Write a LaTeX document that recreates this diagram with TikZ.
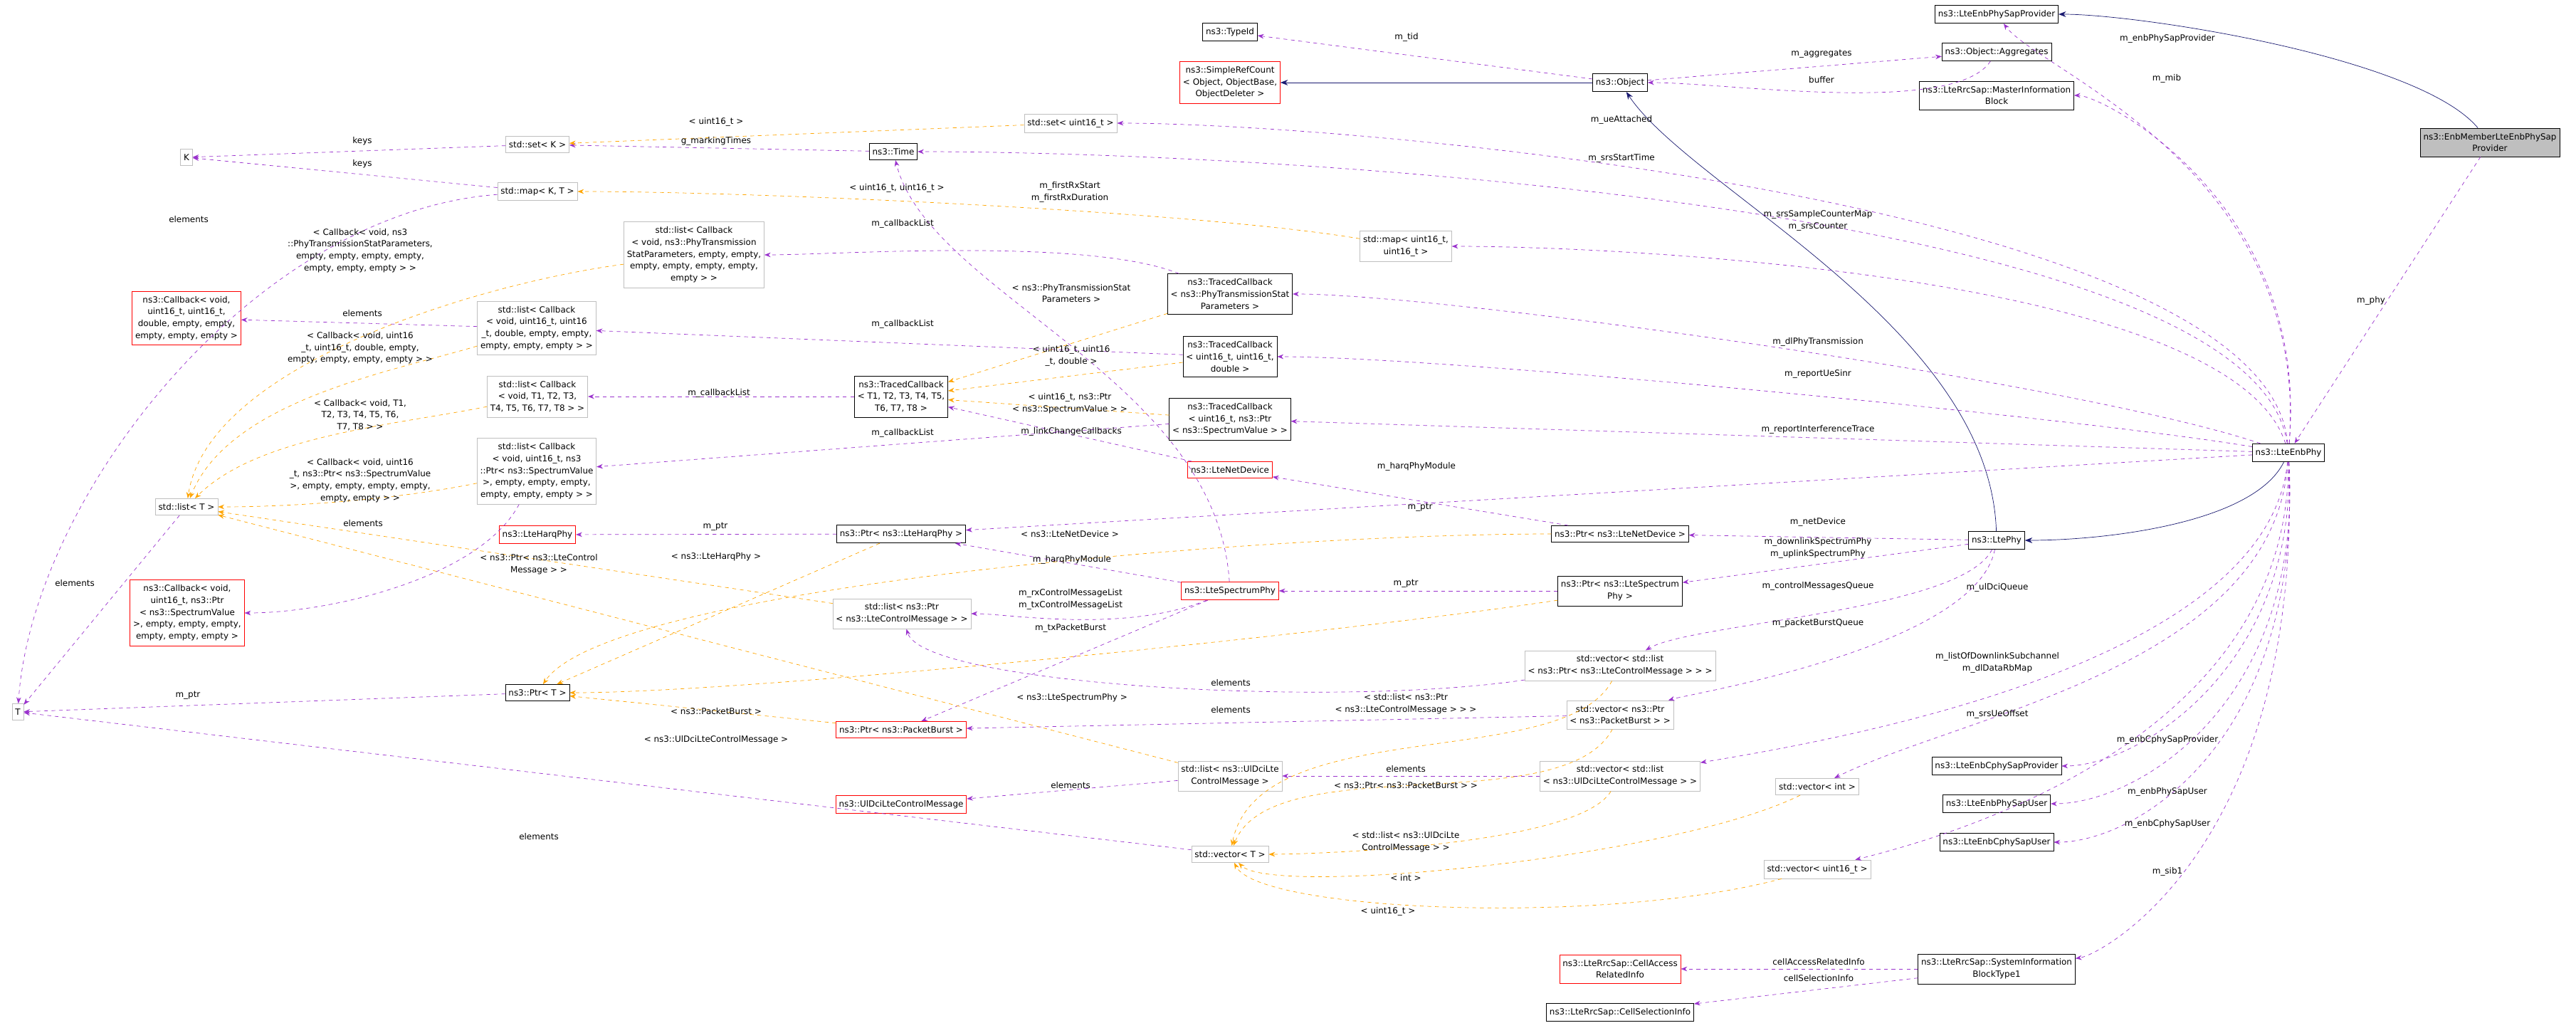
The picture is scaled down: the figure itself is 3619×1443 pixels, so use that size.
\documentclass[tikz,border=0pt]{standalone}
\usepackage{fontspec}
\setmainfont{DejaVu Sans}
\usetikzlibrary{arrows.meta}
\definecolor{use}{HTML}{9A32CD}
\definecolor{tmpl}{HTML}{FFA500}
\definecolor{inh}{HTML}{191970}
\definecolor{gbd}{HTML}{BFBFBF}
\begin{document}
\begin{tikzpicture}[x=0.02cm,y=-0.02cm,
 every node/.style={font=\fontsize{6.8}{9.5}\selectfont,align=center},
 bx/.style={draw=black,inner xsep=2.5pt,inner ysep=4pt,fill=white},
 gx/.style={draw=gbd,inner xsep=2.5pt,inner ysep=4pt,fill=white},
 rx/.style={draw=red,inner xsep=2.5pt,inner ysep=4pt,fill=white},
 mem/.style={draw=use,dashed,-{Stealth[length=5pt]}},
 tpl/.style={draw=tmpl,dashed,-{Stealth[length=5pt]}},
 inhe/.style={draw=inh,-{Stealth[length=6pt]}},
 lab/.style={inner sep=1pt}]
\useasboundingbox (0,0) rectangle (3619,1443);
% nodes
\node[bx] (typeid) at (1728,45) {ns3::TypeId};
\node[rx] (src) at (1728,116) {ns3::SimpleRefCount\\< Object, ObjectBase,\\ ObjectDeleter >};
\node[bx] (obj) at (2276,116) {ns3::Object};
\node[bx] (agg) at (2805,73) {ns3::Object::Aggregates};
\node[bx] (psp) at (2805,20) {ns3::LteEnbPhySapProvider};
\node[bx] (mib) at (2805,134) {ns3::LteRrcSap::MasterInformation\\Block};
\node[draw=black,fill=gbd,inner xsep=2.5pt,inner ysep=4pt] (enb) at (3498,200) {ns3::EnbMemberLteEnbPhySap\\Provider};
\node[gx] (setK) at (755,203) {std::set< K >};
\node[gx] (K) at (262,221) {K};
\node[gx] (setu) at (1504,173) {std::set< uint16\_t >};
\node[bx] (time) at (1255,213) {ns3::Time};
\node[gx] (mapKT) at (755,269) {std::map< K, T >};
\node[gx] (lcbP) at (975,358) {std::list< Callback\\< void, ns3::PhyTransmission\\StatParameters, empty, empty,\\ empty, empty, empty, empty,\\ empty > >};
\node[gx] (mapu) at (1975,346) {std::map< uint16\_t,\\ uint16\_t >};
\node[bx] (tcP) at (1728,413) {ns3::TracedCallback\\< ns3::PhyTransmissionStat\\Parameters >};
\node[rx] (cb1) at (262,447) {ns3::Callback< void,\\ uint16\_t, uint16\_t,\\ double, empty, empty,\\ empty, empty, empty >};
\node[gx] (lcbU) at (754,461) {std::list< Callback\\< void, uint16\_t, uint16\\\_t, double, empty, empty,\\ empty, empty, empty > >};
\node[bx] (tcU) at (1728,501) {ns3::TracedCallback\\< uint16\_t, uint16\_t,\\ double >};
\node[bx] (tcT) at (1266,557) {ns3::TracedCallback\\< T1, T2, T3, T4, T5,\\ T6, T7, T8 >};
\node[gx] (lcbT) at (755,557) {std::list< Callback\\< void, T1, T2, T3,\\ T4, T5, T6, T7, T8 > >};
\node[bx] (tcS) at (1728,589) {ns3::TracedCallback\\< uint16\_t, ns3::Ptr\\< ns3::SpectrumValue > >};
\node[gx] (listT) at (262,712) {std::list< T >};
\node[gx] (lcbS) at (754,662) {std::list< Callback\\< void, uint16\_t, ns3\\::Ptr< ns3::SpectrumValue\\ >, empty, empty, empty,\\ empty, empty, empty > >};
\node[rx] (netdev) at (1728,660) {ns3::LteNetDevice};
\node[bx] (enbphy) at (3215,636) {ns3::LteEnbPhy};
\node[rx] (harq) at (755,751) {ns3::LteHarqPhy};
\node[bx] (pharq) at (1266,750) {ns3::Ptr< ns3::LteHarqPhy >};
\node[bx] (pnet) at (2276,750) {ns3::Ptr< ns3::LteNetDevice >};
\node[bx] (ltephy) at (2805,759) {ns3::LtePhy};
\node[rx] (cb2) at (263,861) {ns3::Callback< void,\\ uint16\_t, ns3::Ptr\\< ns3::SpectrumValue\\ >, empty, empty, empty,\\ empty, empty, empty >};
\node[gx] (lcm) at (1267,862) {std::list< ns3::Ptr\\< ns3::LteControlMessage > >};
\node[rx] (sphy) at (1728,830) {ns3::LteSpectrumPhy};
\node[bx] (psphy) at (2276,830) {ns3::Ptr< ns3::LteSpectrum\\Phy >};
\node[bx] (ptrT) at (755,973) {ns3::Ptr< T >};
\node[gx] (T) at (25,1000) {T};
\node[gx] (vlcm) at (2276,935) {std::vector< std::list\\< ns3::Ptr< ns3::LteControlMessage > > >};
\node[gx] (vpb) at (2276,1004) {std::vector< ns3::Ptr\\< ns3::PacketBurst > >};
\node[rx] (ppb) at (1266,1025) {ns3::Ptr< ns3::PacketBurst >};
\node[gx] (ldci) at (1728,1090) {std::list< ns3::UlDciLte\\ControlMessage >};
\node[gx] (vldci) at (2276,1090) {std::vector< std::list\\< ns3::UlDciLteControlMessage > >};
\node[rx] (dci) at (1266,1130) {ns3::UlDciLteControlMessage};
\node[gx] (vint) at (2553,1105) {std::vector< int >};
\node[bx] (cpsp) at (2805,1076) {ns3::LteEnbCphySapProvider};
\node[bx] (psu) at (2805,1129) {ns3::LteEnbPhySapUser};
\node[bx] (cpsu) at (2805,1183) {ns3::LteEnbCphySapUser};
\node[gx] (vT) at (1728,1200) {std::vector< T >};
\node[gx] (vu) at (2553,1221) {std::vector< uint16\_t >};
\node[rx] (cari) at (2276,1361) {ns3::LteRrcSap::CellAccess\\RelatedInfo};
\node[bx] (sib) at (2805,1361) {ns3::LteRrcSap::SystemInformation\\BlockType1};
\node[bx] (csi) at (2276,1422) {ns3::LteRrcSap::CellSelectionInfo};
% inheritance
\draw[inhe] (obj) -- (src);
\draw[inhe] (ltephy) .. controls +(-10,-300) and +(100,150) .. (obj);
\draw[inhe] (enbphy) .. controls +(-50,100) and +(150,0) .. (ltephy);
\draw[inhe] (enb) .. controls +(-100,-120) and +(200,0) .. (psp);
% members
\draw[mem] (obj) -- (typeid);
\draw[mem] (obj) -- (agg);
\draw[mem] (agg) .. controls +(-60,90) and +(150,0) .. (obj);
\draw[mem] (enbphy) .. controls +(30,-400) and +(60,80) .. (psp);
\draw[mem] (enbphy) .. controls +(30,-350) and +(150,0) .. (mib);
\draw[mem] (enbphy) .. controls +(-30,-350) and +(400,0) .. (setu);
\draw[mem] (enbphy) .. controls +(-50,-350) and +(500,0) .. (time);
\draw[mem] (enbphy) .. controls +(-80,-250) and +(300,0) .. (mapu);
\draw[mem] (enbphy) .. controls +(-300,-100) and +(300,0) .. (tcP);
\draw[mem] (enbphy) .. controls +(-300,-50) and +(300,0) .. (tcU);
\draw[mem] (enbphy) -- (tcS);
\draw[mem] (enbphy) -- (pharq);
\draw[mem] (enb) -- (enbphy);
\draw[mem] (enbphy) .. controls +(-30,300) and +(300,-50) .. (vldci);
\draw[mem] (enbphy) .. controls +(-20,300) and +(200,-100) .. (vint);
\draw[mem] (enbphy) .. controls +(0,400) and +(200,-50) .. (vu);
\draw[mem] (enbphy) .. controls +(10,300) and +(200,0) .. (cpsp);
\draw[mem] (enbphy) .. controls +(20,350) and +(200,0) .. (psu);
\draw[mem] (enbphy) .. controls +(20,400) and +(200,0) .. (cpsu);
\draw[mem] (enbphy) .. controls +(20,550) and +(150,-20) .. (sib);
\draw[mem] (ltephy) -- (pnet);
\draw[mem] (ltephy) -- (psphy);
\draw[mem] (ltephy) .. controls +(-50,100) and +(100,-60) .. (vlcm);
\draw[mem] (ltephy) .. controls +(-30,150) and +(100,-30) .. (vpb);
\draw[mem] (pnet) -- (netdev);
\draw[mem] (psphy) -- (sphy);
\draw[mem] (pharq) -- (harq);
\draw[mem] (sphy) -- (pharq);
\draw[mem] (sphy) .. controls +(-150,60) and +(150,0) .. (lcm);
\draw[mem] (sphy) -- (ppb);
\draw[mem] (sphy) .. controls +(-20,-300) and +(50,200) .. (time);
\draw[mem] (netdev) -- (tcT);
\draw[mem] (tcP) .. controls +(-200,-80) and +(200,0) .. (lcbP);
\draw[mem] (tcU) -- (lcbU);
\draw[mem] (tcT) -- (lcbT);
\draw[mem] (tcS) -- (lcbS);
\draw[mem] (lcbU) -- (cb1);
\draw[mem] (lcbS) .. controls +(-80,150) and +(200,0) .. (cb2);
\draw[mem] (setK) -- (K);
\draw[mem] (mapKT) -- (K);
\draw[mem] (mapKT) .. controls +(-400,30) and +(20,-300) .. (T);
\draw[mem] (listT) -- (T);
\draw[mem] (ptrT) -- (T);
\draw[mem] (vT) -- (T);
\draw[mem] (vlcm) .. controls +(-400,60) and +(30,100) .. (lcm);
\draw[mem] (vpb) -- (ppb);
\draw[mem] (vldci) -- (ldci);
\draw[mem] (ldci) -- (dci);
\draw[mem] (sib) -- (cari);
\draw[mem] (sib) -- (csi);
\draw[mem] (time) -- (setK);
% templates
\draw[tpl] (setu) -- (setK);
\draw[tpl] (mapu) .. controls +(-300,-50) and +(300,0) .. (mapKT);
\draw[tpl] (tcP) -- (tcT);
\draw[tpl] (tcU) -- (tcT);
\draw[tpl] (tcS) -- (tcT);
\draw[tpl] (lcbP) .. controls +(-300,40) and +(30,-200) .. (listT);
\draw[tpl] (lcbU) .. controls +(-200,60) and +(60,-150) .. (listT);
\draw[tpl] (lcbT) .. controls +(-200,40) and +(100,-100) .. (listT);
\draw[tpl] (lcbS) .. controls +(-200,40) and +(150,0) .. (listT);
\draw[tpl] (lcm) -- (listT);
\draw[tpl] (ldci) -- (listT);
\draw[tpl] (pharq) -- (ptrT);
\draw[tpl] (pnet) .. controls +(-500,0) and +(100,-150) .. (ptrT);
\draw[tpl] (psphy) .. controls +(-400,60) and +(300,0) .. (ptrT);
\draw[tpl] (ppb) -- (ptrT);
\draw[tpl] (vlcm) .. controls +(-80,150) and +(40,-200) .. (vT);
\draw[tpl] (vpb) .. controls +(-80,150) and +(60,-150) .. (vT);
\draw[tpl] (vldci) .. controls +(-60,100) and +(100,0) .. (vT);
\draw[tpl] (vint) .. controls +(-200,100) and +(60,60) .. (vT);
\draw[tpl] (vu) .. controls +(-300,80) and +(40,80) .. (vT);
% labels
\node[lab] (l1) at (1976,52) {m\_tid};
\node[lab] (l2) at (2559,76) {m\_aggregates};
\node[lab] (l3) at (2559,112) {buffer};
\node[lab] (l4) at (3045,54) {m\_enbPhySapProvider};
\node[lab] (l5) at (3044,110) {m\_mib};
\node[lab] (l6) at (2278,168) {m\_ueAttached};
\node[lab] (l7) at (2278,222) {m\_srsStartTime};
\node[lab] (l8) at (2554,310) {m\_srsSampleCounterMap\\m\_srsCounter};
\node[lab] (l9) at (2554,480) {m\_dlPhyTransmission};
\node[lab] (l10) at (2554,525) {m\_reportUeSinr};
\node[lab] (l11) at (2554,603) {m\_reportInterferenceTrace};
\node[lab] (l12) at (1990,655) {m\_harqPhyModule};
\node[lab] (l13) at (3331,422) {m\_phy};
\node[lab] (l14) at (2806,825) {m\_ulDciQueue};
\node[lab] (l15) at (2806,931) {m\_listOfDownlinkSubchannel\\m\_dlDataRbMap};
\node[lab] (l16) at (2806,1003) {m\_srsUeOffset};
\node[lab] (l17) at (3045,1039) {m\_enbCphySapProvider};
\node[lab] (l18) at (3045,1112) {m\_enbPhySapUser};
\node[lab] (l19) at (3045,1157) {m\_enbCphySapUser};
\node[lab] (l20) at (3045,1224) {m\_sib1};
\node[lab] (l21) at (2554,733) {m\_netDevice};
\node[lab] (l22) at (2554,770) {m\_downlinkSpectrumPhy\\m\_uplinkSpectrumPhy};
\node[lab] (l23) at (2554,823) {m\_controlMessagesQueue};
\node[lab] (l24) at (2554,875) {m\_packetBurstQueue};
\node[lab] (l25) at (1995,713) {m\_ptr};
\node[lab] (l26) at (1975,820) {m\_ptr};
\node[lab] (l27) at (1005,740) {m\_ptr};
\node[lab] (l28) at (1506,786) {m\_harqPhyModule};
\node[lab] (l29) at (1504,842) {m\_rxControlMessageList\\m\_txControlMessageList};
\node[lab] (l30) at (1504,882) {m\_txPacketBurst};
\node[lab] (l31) at (1503,270) {m\_firstRxStart\\m\_firstRxDuration};
\node[lab] (l32) at (1505,606) {m\_linkChangeCallbacks};
\node[lab] (l33) at (1268,314) {m\_callbackList};
\node[lab] (l34) at (1268,455) {m\_callbackList};
\node[lab] (l35) at (1010,552) {m\_callbackList};
\node[lab] (l36) at (1268,608) {m\_callbackList};
\node[lab] (l37) at (509,440) {elements};
\node[lab] (l38) at (510,735) {elements};
\node[lab] (l39) at (509,198) {keys};
\node[lab] (l40) at (509,230) {keys};
\node[lab] (l41) at (265,308) {elements};
\node[lab] (l42) at (105,819) {elements};
\node[lab] (l43) at (264,977) {m\_ptr};
\node[lab] (l44) at (757,1175) {elements};
\node[lab] (l45) at (1729,959) {elements};
\node[lab] (l46) at (1729,997) {elements};
\node[lab] (l47) at (1975,1080) {elements};
\node[lab] (l48) at (1504,1103) {elements};
\node[lab] (l49) at (2555,1351) {cellAccessRelatedInfo};
\node[lab] (l50) at (2555,1374) {cellSelectionInfo};
\node[lab] (l51) at (1006,198) {g\_markingTimes};
\node[lab] (t1) at (1006,171) {< uint16\_t >};
\node[lab] (t2) at (1260,264) {< uint16\_t, uint16\_t >};
\node[lab] (t3) at (1505,412) {< ns3::PhyTransmissionStat\\Parameters >};
\node[lab] (t4) at (1505,500) {< uint16\_t, uint16\\\_t, double >};
\node[lab] (t5) at (1503,567) {< uint16\_t, ns3::Ptr\\< ns3::SpectrumValue > >};
\node[lab] (t6) at (506,352) {< Callback< void, ns3\\::PhyTransmissionStatParameters,\\ empty, empty, empty, empty,\\ empty, empty, empty > >};
\node[lab] (t7) at (506,489) {< Callback< void, uint16\\\_t, uint16\_t, double, empty,\\ empty, empty, empty, empty > >};
\node[lab] (t8) at (506,583) {< Callback< void, T1,\\ T2, T3, T4, T5, T6,\\ T7, T8 > >};
\node[lab] (t9) at (506,675) {< Callback< void, uint16\\\_t, ns3::Ptr< ns3::SpectrumValue\\ >, empty, empty, empty, empty,\\ empty, empty > >};
\node[lab] (t10) at (757,793) {< ns3::Ptr< ns3::LteControl\\Message > >};
\node[lab] (t11) at (1006,1039) {< ns3::UlDciLteControlMessage >};
\node[lab] (t12) at (1006,782) {< ns3::LteHarqPhy >};
\node[lab] (t13) at (1503,750) {< ns3::LteNetDevice >};
\node[lab] (t14) at (1506,980) {< ns3::LteSpectrumPhy >};
\node[lab] (t15) at (1006,999) {< ns3::PacketBurst >};
\node[lab] (t16) at (1975,989) {< std::list< ns3::Ptr\\< ns3::LteControlMessage > > >};
\node[lab] (t17) at (1975,1103) {< ns3::Ptr< ns3::PacketBurst > >};
\node[lab] (t18) at (1975,1183) {< std::list< ns3::UlDciLte\\ControlMessage > >};
\node[lab] (t19) at (1975,1233) {< int >};
\node[lab] (t20) at (1950,1280) {< uint16\_t >};
\end{tikzpicture}
\end{document}
